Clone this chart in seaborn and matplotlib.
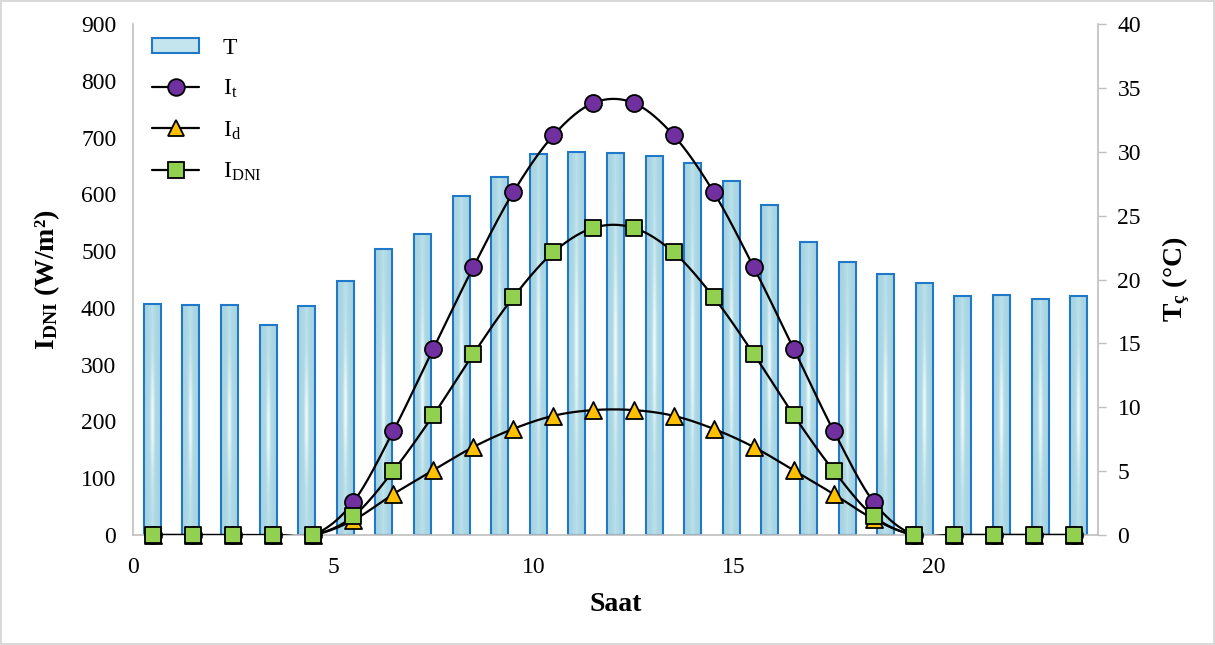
import numpy as np
import matplotlib
matplotlib.use("Agg")
import matplotlib.pyplot as plt
import seaborn as sns
from matplotlib.colors import LinearSegmentedColormap
from matplotlib.patches import Patch
from matplotlib.lines import Line2D

# ---------------- data ----------------
hours = [0.5 + i for i in range(24)]
I_t = [0, 0, 0, 0, 0, 58, 183, 328, 472, 604, 704, 761, 761, 704, 604, 472, 328, 183, 58, 0, 0, 0, 0, 0]
I_d = [0, 0, 0, 0, 0, 26, 72, 114, 155, 187, 210, 220, 220, 210, 187, 155, 114, 72, 28, 0, 0, 0, 0, 0]
I_dni = [0, 0, 0, 0, 0, 33, 113, 211, 319, 419, 498, 541, 541, 498, 419, 319, 211, 113, 33, 0, 0, 0, 0, 0]
bar_hours = list(range(25))
T = [18.1, 18.0, 18.0, 16.4, 17.9, 19.9, 22.4, 23.6, 26.5, 28.0, 29.8, 30.0, 29.9,
     29.7, 29.1, 27.7, 25.8, 22.9, 21.4, 20.4, 19.7, 18.7, 18.8, 18.5, 18.7]
left_ticks = list(range(0, 901, 100))
right_ticks = list(range(0, 41, 5))
x_ticks = [0, 5, 10, 15, 20]

# ---------------- style ----------------
sns.set_theme(style="white")
plt.rcParams["font.family"] = ["Liberation Serif", "DejaVu Serif"]
plt.rcParams["mathtext.fontset"] = "custom"
plt.rcParams["mathtext.rm"] = "Liberation Serif"
plt.rcParams["mathtext.it"] = "Liberation Serif:italic"
plt.rcParams["mathtext.bf"] = "Liberation Serif:bold"
plt.rcParams["text.color"] = "black"
plt.rcParams["axes.labelcolor"] = "black"
plt.rcParams["xtick.color"] = "black"
plt.rcParams["ytick.color"] = "black"

GRAY = "#bfbfbf"
EDGE_BLUE = "#1f78c8"

fig = plt.figure(figsize=(12.15, 6.45), dpi=100)
fig.patch.set_facecolor("white")
fig.patch.set_edgecolor("#d9d9d9")
fig.patch.set_linewidth(1.5)

rect = [133 / 1215, 1 - 535 / 645, (1098 - 133) / 1215, (535 - 24) / 645]
ax_bar = fig.add_axes(rect)
ax = fig.add_axes(rect)
ax.patch.set_visible(False)

# ---------------- bars (secondary axis) ----------------
sns.barplot(x=bar_hours, y=T, ax=ax_bar, width=0.44, color="#b4dde8",
            edgecolor=EDGE_BLUE, linewidth=1.5, saturation=1)

cmap = LinearSegmentedColormap.from_list("g", ["#a9d5e2", "#b4dde8", "#eef8fb"])
gx = np.linspace(-1, 1, 40)
gy = np.linspace(-1, 1, 80)
GX, GY = np.meshgrid(gx, gy)
grad = np.exp(-(GX / 0.35) ** 2) * (0.55 + 0.45 * np.exp(-(GY / 0.5) ** 2))
for p in ax_bar.patches:
    x0, y0 = p.get_x(), p.get_y()
    w, h = p.get_width(), p.get_height()
    im = ax_bar.imshow(grad, extent=[x0, x0 + w, y0, y0 + h], aspect="auto",
                       cmap=cmap, vmin=0, vmax=1, origin="lower", zorder=1)
    im.set_clip_path(p)
    p.set_facecolor("none")
    p.set_zorder(2)
ax_bar.set_xlim(-0.5, 24.5)
ax_bar.set_ylim(0, 40)

ax_bar.yaxis.tick_right()
ax_bar.yaxis.set_label_position("right")
ax_bar.set_yticks(right_ticks)
ax_bar.set_xticks([])
ax_bar.set_xlabel("")
ax_bar.tick_params(axis="y", which="both", direction="out", length=6, width=1,
                   color=GRAY, labelcolor="black", labelsize=17, pad=8)
for s in ["top", "left", "bottom"]:
    ax_bar.spines[s].set_visible(False)
ax_bar.spines["right"].set_color(GRAY)
ax_bar.spines["right"].set_linewidth(1.2)
ax_bar.set_ylabel(r"T$_{\mathbf{ç}}$ (°C)", fontsize=20, fontweight="bold",
                  rotation=90, labelpad=14)


# ---------------- lines (primary axis) ----------------
def catmull_rom(xs, ys, n=24):
    xs = np.asarray(xs, float)
    ys = np.asarray(ys, float)
    P = np.column_stack([xs, ys])
    P = np.vstack([P[0] - (P[1] - P[0]), P, P[-1] + (P[-1] - P[-2])])
    out = []
    t = np.linspace(0, 1, n, endpoint=False)[:, None]
    for i in range(1, len(P) - 2):
        p0, p1, p2, p3 = P[i - 1], P[i], P[i + 1], P[i + 2]
        seg = 0.5 * ((2 * p1) + (-p0 + p2) * t + (2 * p0 - 5 * p1 + 4 * p2 - p3) * t ** 2
                     + (-p0 + 3 * p1 - 3 * p2 + p3) * t ** 3)
        out.append(seg)
    out.append(P[-2][None, :])
    out = np.vstack(out)
    return out[:, 0], out[:, 1]


series = [
    (I_t, "o", "#7030a0", 150, r"I$_{\mathrm{t}}$"),
    (I_d, "^", "#ffc000", 150, r"I$_{\mathrm{d}}$"),
    (I_dni, "s", "#92d050", 135, r"I$_{\mathrm{DNI}}$"),
]
for vals, mk, col, sz, lab in series:
    sx, sy = catmull_rom(hours, vals)
    ax.plot(sx, sy, color="black", lw=1.6, zorder=3, solid_capstyle="round")
for vals, mk, col, sz, lab in series:
    sns.scatterplot(x=hours, y=vals, ax=ax, marker=mk, s=sz, color=col,
                    edgecolor="black", linewidth=1.3, zorder=5, legend=False,
                    clip_on=False)

ax.set_xlim(0, 24.1)
ax.set_ylim(0, 900)
ax.set_xticks(x_ticks)
ax.set_yticks(left_ticks)
ax.tick_params(axis="x", length=0, labelsize=17, pad=16, labelcolor="black")
ax.tick_params(axis="y", direction="out", length=6, width=1, color=GRAY,
               labelcolor="black", labelsize=17, pad=6)
for s in ["top", "right"]:
    ax.spines[s].set_visible(False)
for s in ["left", "bottom"]:
    ax.spines[s].set_color(GRAY)
    ax.spines[s].set_linewidth(1.2)
ax.set_xlabel("Saat", fontsize=20, fontweight="bold", labelpad=10)
ax.set_ylabel(r"$\mathbf{I_{DNI}}$ (W/m²)", fontsize=20, fontweight="bold",
              labelpad=14)

# ---------------- legend ----------------
handles = [Patch(facecolor="#c4e4ee", edgecolor=EDGE_BLUE, linewidth=1.5, label="T")]
for vals, mk, col, sz, lab in series:
    handles.append(Line2D([0], [0], color="black", lw=1.6, marker=mk,
                          markersize=12 if mk != "s" else 11, markerfacecolor=col,
                          markeredgecolor="black", markeredgewidth=1.3, label=lab))
leg = ax.legend(handles=handles, loc="upper left", bbox_to_anchor=(0.005, 1.0),
                frameon=False, fontsize=17, handlelength=2.0, handleheight=0.6,
                labelspacing=0.8, handletextpad=1.0, borderaxespad=0.2)

fig.savefig("out.png", dpi=100, facecolor=fig.get_facecolor(),
            edgecolor=fig.get_edgecolor())
